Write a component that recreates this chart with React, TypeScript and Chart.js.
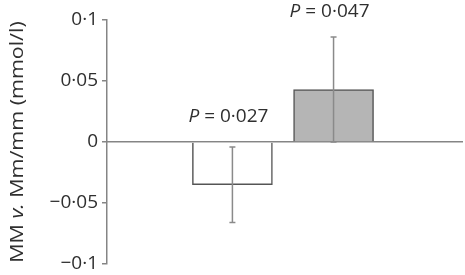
import React, { useEffect, useRef } from 'react';
import { Chart, registerables } from 'chart.js';

Chart.register(...registerables);

// ---- data ----
const groupPositions = [1, 2];
const meanDifference = [-0.035, 0.043];
const errorMagnitude = [0.031, 0.043];
const pValueText = ['0·027', '0·047'];
const barFills = ['#ffffff', '#b5b5b5'];
const yMin = -0.1;
const yMax = 0.1;
const yStep = 0.05;
const yTitleParts = [
  { text: 'MM ', italic: false },
  { text: 'v.', italic: true },
  { text: ' Mm/mm (mmol/l)', italic: false },
];

const FONT = '"Open Sans", "DejaVu Sans", sans-serif';
const FS = 19;
const TEXT = '#2f2f2f';
const AXIS = '#858585';

function fmt(v: number): string {
  const r = Math.round(v * 1000) / 1000;
  if (r === 0) return '0';
  const s = Math.abs(r).toString().replace('.', '·');
  return (r < 0 ? '−' : '') + s;
}

const overlayPlugin = {
  id: 'overlay',
  afterDatasetsDraw(chart: any) {
    const { ctx, scales, chartArea } = chart;
    const xs = scales.x;
    const ys = scales.y;
    ctx.save();
    // error bars
    ctx.strokeStyle = '#8a8a8a';
    ctx.lineWidth = 1.5;
    groupPositions.forEach((gx, i) => {
      const cx = xs.getPixelForValue(gx);
      const hi = ys.getPixelForValue(meanDifference[i] + errorMagnitude[i]);
      const lo = ys.getPixelForValue(meanDifference[i] - errorMagnitude[i]);
      ctx.beginPath();
      ctx.moveTo(cx, hi);
      ctx.lineTo(cx, lo);
      ctx.moveTo(cx - 3, hi);
      ctx.lineTo(cx + 3, hi);
      ctx.moveTo(cx - 3, lo);
      ctx.lineTo(cx + 3, lo);
      ctx.stroke();
    });
    // P labels
    ctx.fillStyle = TEXT;
    ctx.textBaseline = 'middle';
    ctx.textAlign = 'left';
    groupPositions.forEach((gx, i) => {
      const cx = xs.getPixelForValue(gx) - 4;
      const top = Math.max(0, meanDifference[i] + errorMagnitude[i]);
      const y = ys.getPixelForValue(top) - 25;
      ctx.font = `italic ${FS}px ${FONT}`;
      const wP = ctx.measureText('P').width;
      ctx.font = `${FS}px ${FONT}`;
      const rest = ' = ' + pValueText[i];
      const wR = ctx.measureText(rest).width;
      const x0 = cx - (wP + wR) / 2;
      ctx.font = `italic ${FS}px ${FONT}`;
      ctx.fillText('P', x0, y);
      ctx.font = `${FS}px ${FONT}`;
      ctx.fillText(rest, x0 + wP, y);
    });
    // y-axis title
    const midY = (chartArea.top + chartArea.bottom) / 2;
    ctx.translate(18, midY);
    ctx.rotate(-Math.PI / 2);
    ctx.scale(1.13, 1);
    let total = 0;
    yTitleParts.forEach((p) => {
      ctx.font = `${p.italic ? 'italic ' : ''}${FS}px ${FONT}`;
      total += ctx.measureText(p.text).width;
    });
    let x = -total / 2;
    yTitleParts.forEach((p) => {
      ctx.font = `${p.italic ? 'italic ' : ''}${FS}px ${FONT}`;
      ctx.fillText(p.text, x, 0);
      x += ctx.measureText(p.text).width;
    });
    ctx.restore();
  },
};

export default function App() {
  const ref = useRef<HTMLCanvasElement | null>(null);
  useEffect(() => {
    if (!ref.current) return;
    const chart = new Chart(ref.current, {
      type: 'bar',
      data: {
        datasets: [
          {
            data: groupPositions.map((gx, i) => ({ x: gx, y: meanDifference[i] })),
            backgroundColor: barFills,
            borderColor: '#555555',
            borderWidth: 1.5,
            barThickness: 80,
          },
        ],
      },
      options: {
        animation: false,
        responsive: false,
        maintainAspectRatio: false,
        layout: { padding: { left: 0, right: 3, top: 20, bottom: 11 } },
        plugins: { legend: { display: false }, tooltip: { enabled: false } },
        scales: {
          x: {
            type: 'linear',
            min: -0.24,
            max: 3.27,
            offset: false,
            position: { y: 0 } as any,
            ticks: { display: false },
            grid: { display: false, drawTicks: false, offset: false },
            border: { display: true, color: AXIS, width: 1.5 },
            afterFit: (s: any) => {
              s.height = 0;
              s.paddingLeft = 0;
              s.paddingRight = 0;
            },
          },
          y: {
            min: yMin,
            max: yMax,
            ticks: {
              stepSize: yStep,
              color: TEXT,
              font: { family: FONT, size: FS },
              padding: 4,
              callback: (v: any) => fmt(Number(v)),
            },
            grid: { drawOnChartArea: false, color: AXIS, tickLength: 5, lineWidth: 1.5 },
            border: { display: true, color: AXIS, width: 1.5 },
            afterFit: (s: any) => {
              s.width = 107;
              s.paddingTop = 0;
              s.paddingBottom = 0;
            },
          },
        },
      },
      plugins: [overlayPlugin],
    });
    return () => chart.destroy();
  }, []);
  return (
    <div style={{ position: 'fixed', left: 0, top: 0, width: 465, height: 275, background: '#fff' }}>
      <canvas ref={ref} width={465} height={275} style={{ width: 465, height: 275 }} />
    </div>
  );
}
